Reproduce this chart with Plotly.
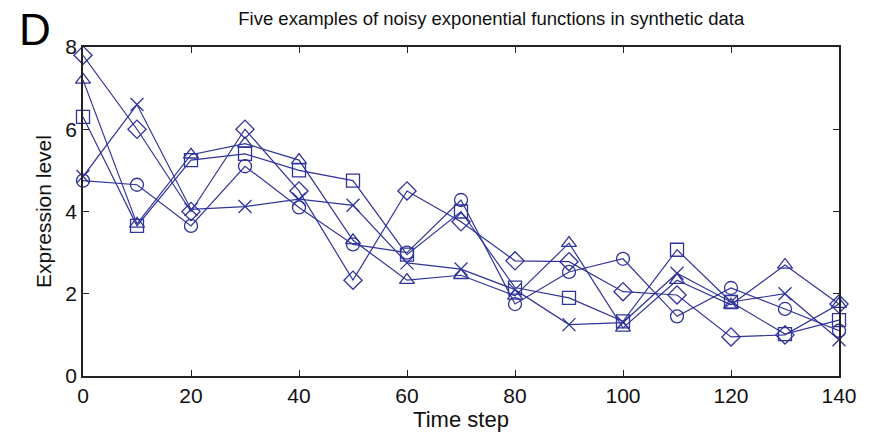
import plotly.graph_objects as go

time_steps = [0, 10, 20, 30, 40, 50, 60, 70, 80, 90, 100, 110, 120, 130, 140]

series_diamond = [7.8, 6.0, 4.0, 6.0, 4.5, 2.33, 4.5, 3.75, 2.8, 2.78, 2.05, 1.97, 0.95, 1.0, 1.75]
series_triangle = [7.2, 3.7, 5.38, 5.65, 5.25, 3.3, 2.33, 2.45, 1.95, 3.23, 1.17, 2.33, 1.73, 2.7, 1.75]
series_square = [6.3, 3.65, 5.25, 5.4, 5.0, 4.75, 2.95, 4.0, 2.15, 1.9, 1.33, 3.07, 1.8, 1.02, 1.36]
series_circle = [4.75, 4.65, 3.65, 5.1, 4.1, 3.2, 3.0, 4.28, 1.75, 2.53, 2.85, 1.45, 2.14, 1.63, 1.1]
series_x = [4.85, 6.6, 4.05, 4.12, 4.3, 4.15, 2.75, 2.6, 2.1, 1.25, 1.3, 2.5, 1.8, 2.0, 0.88]

series = [
    (series_diamond, "diamond-open"),
    (series_triangle, "triangle-up-open"),
    (series_square, "square-open"),
    (series_circle, "circle-open"),
    (series_x, "x-thin-open"),
]

x_ticks = [0, 20, 40, 60, 80, 100, 120, 140]
y_ticks = [0, 2, 4, 6, 8]

COLOR = "#30349a"

fig = go.Figure()
for vals, sym in series:
    fig.add_trace(go.Scatter(
        x=time_steps, y=vals, mode="lines+markers",
        line=dict(color=COLOR, width=1.2),
        marker=dict(symbol=sym, size=13 if sym != "diamond-open" else 14,
                    color=COLOR, line=dict(color=COLOR, width=1.3)),
        showlegend=False, cliponaxis=False,
    ))

font_family = "Liberation Sans, Arial, sans-serif"
axis_common = dict(
    showgrid=False, zeroline=False, showline=True, linecolor="#222222",
    linewidth=1.6, mirror="ticks", ticks="inside", ticklen=6,
    tickcolor="#222222", tickwidth=1,
    tickfont=dict(family=font_family, size=21, color="#111111"),
)

fig.update_layout(
    width=871, height=437,
    margin=dict(l=83, r=32, t=47, b=61),
    paper_bgcolor="white", plot_bgcolor="white",
    title=dict(text="Five examples of noisy exponential functions in synthetic data",
               xref="paper", x=0.54, xanchor="center", y=0.958, yanchor="middle",
               font=dict(family=font_family, size=18.5, color="#111111")),
    xaxis=dict(range=[0, 140], tickvals=x_ticks, ticktext=[str(t) for t in x_ticks],
               title=dict(text="Time step", standoff=4,
                          font=dict(family=font_family, size=22, color="#111111")),
               **axis_common),
    yaxis=dict(range=[0, 8], tickvals=y_ticks, ticktext=[str(t) for t in y_ticks],
               title=dict(text="Expression level", standoff=8,
                          font=dict(family=font_family, size=21, color="#111111")),
               **axis_common),
    annotations=[dict(text="D", x=-0.087, y=1.054, xref="paper", yref="paper",
                      showarrow=False, xanchor="left", yanchor="middle",
                      font=dict(family=font_family, size=44, color="#000000"))],
)

fig.write_html("out.html")
